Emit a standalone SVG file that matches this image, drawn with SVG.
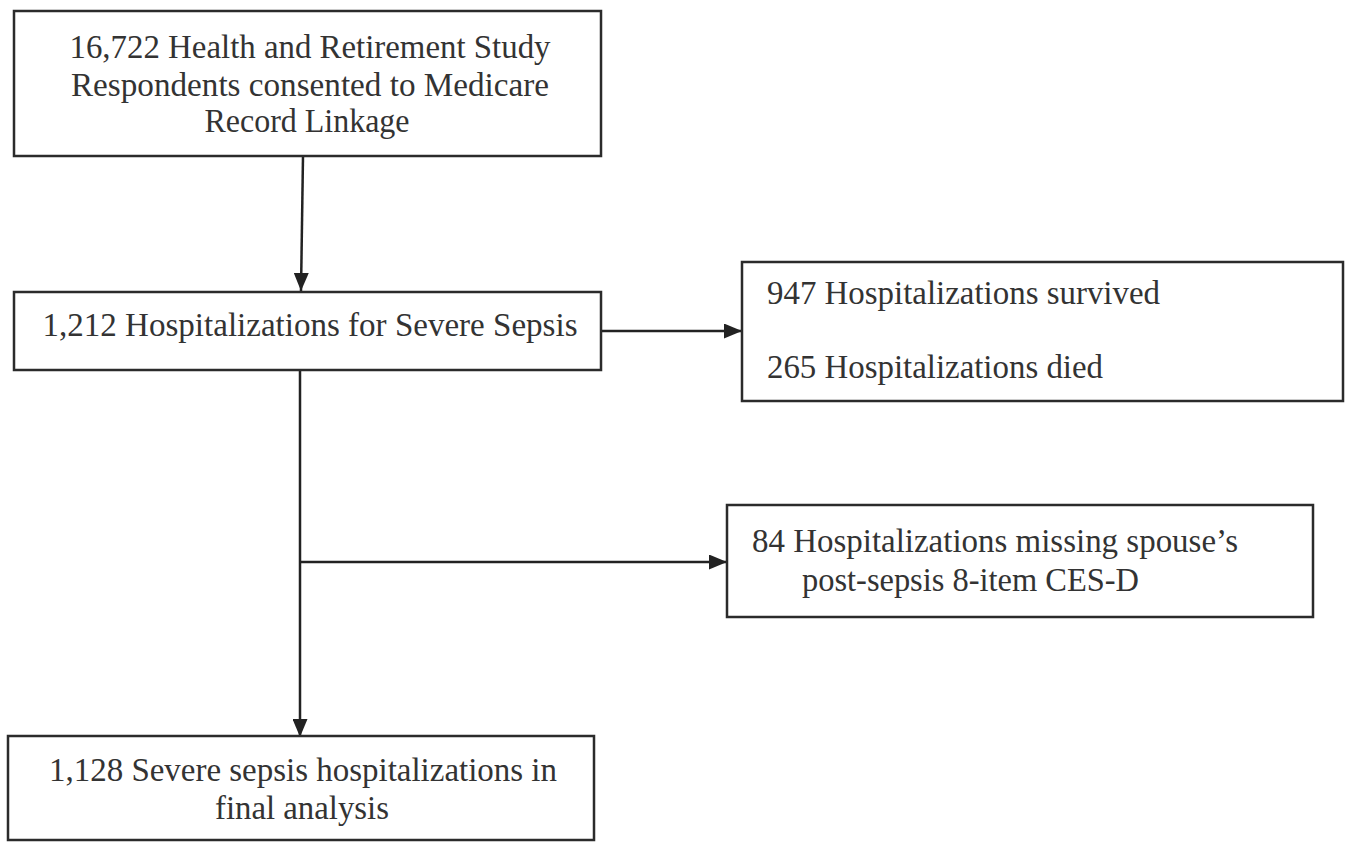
<svg xmlns="http://www.w3.org/2000/svg" width="1350" height="842" viewBox="0 0 1350 842">
<defs>
<style>
.box{fill:#fff;stroke:#2b2b2b;stroke-width:2.5}
.t{font-family:"Liberation Serif","Times New Roman",serif;font-size:33px;fill:#333}
.c{text-anchor:middle}
.ln{stroke:#222;stroke-width:2.5;fill:none}
</style>
<marker id="arr" viewBox="0 0 18 15" refX="18" refY="7.5" markerWidth="18" markerHeight="15" markerUnits="userSpaceOnUse" orient="auto">
<path d="M0,0 L18,7.5 L0,15 z" fill="#222"/>
</marker>
</defs>
<rect width="1350" height="842" fill="#fff"/>
<g id="connectors">
<line class="ln" x1="303" y1="156" x2="301" y2="291" marker-end="url(#arr)"/>
<line class="ln" x1="601" y1="331" x2="742" y2="331" marker-end="url(#arr)"/>
<line class="ln" x1="300" y1="370" x2="300" y2="737" marker-end="url(#arr)"/>
<line class="ln" x1="300" y1="562" x2="727" y2="562" marker-end="url(#arr)"/>
</g>
<g id="n1">
<rect class="box" x="14" y="11" width="587" height="145"/>
<text class="t c" x="310" y="58" textLength="481" lengthAdjust="spacingAndGlyphs">16,722 Health and Retirement Study</text>
<text class="t c" x="310" y="96" textLength="478" lengthAdjust="spacingAndGlyphs">Respondents consented to Medicare</text>
<text class="t c" x="307" y="132" textLength="205" lengthAdjust="spacingAndGlyphs">Record Linkage</text>
</g>
<g id="n2">
<rect class="box" x="14" y="292" width="587" height="78"/>
<text class="t c" x="310" y="336" textLength="535" lengthAdjust="spacingAndGlyphs">1,212 Hospitalizations for Severe Sepsis</text>
</g>
<g id="n3">
<rect class="box" x="742" y="262" width="601" height="139"/>
<text class="t" x="767" y="304" textLength="393" lengthAdjust="spacingAndGlyphs">947 Hospitalizations survived</text>
<text class="t" x="767" y="378" textLength="336" lengthAdjust="spacingAndGlyphs">265 Hospitalizations died</text>
</g>
<g id="n4">
<rect class="box" x="727" y="505" width="586" height="112"/>
<text class="t" x="752" y="552" textLength="486" lengthAdjust="spacingAndGlyphs">84 Hospitalizations missing spouse’s</text>
<text class="t" x="802" y="591" textLength="337" lengthAdjust="spacingAndGlyphs">post-sepsis 8-item CES-D</text>
</g>
<g id="n5">
<rect class="box" x="8" y="736" width="586" height="104"/>
<text class="t c" x="303" y="781" textLength="508" lengthAdjust="spacingAndGlyphs">1,128 Severe sepsis hospitalizations in</text>
<text class="t c" x="302" y="819" textLength="174" lengthAdjust="spacingAndGlyphs">final analysis</text>
</g>
</svg>
